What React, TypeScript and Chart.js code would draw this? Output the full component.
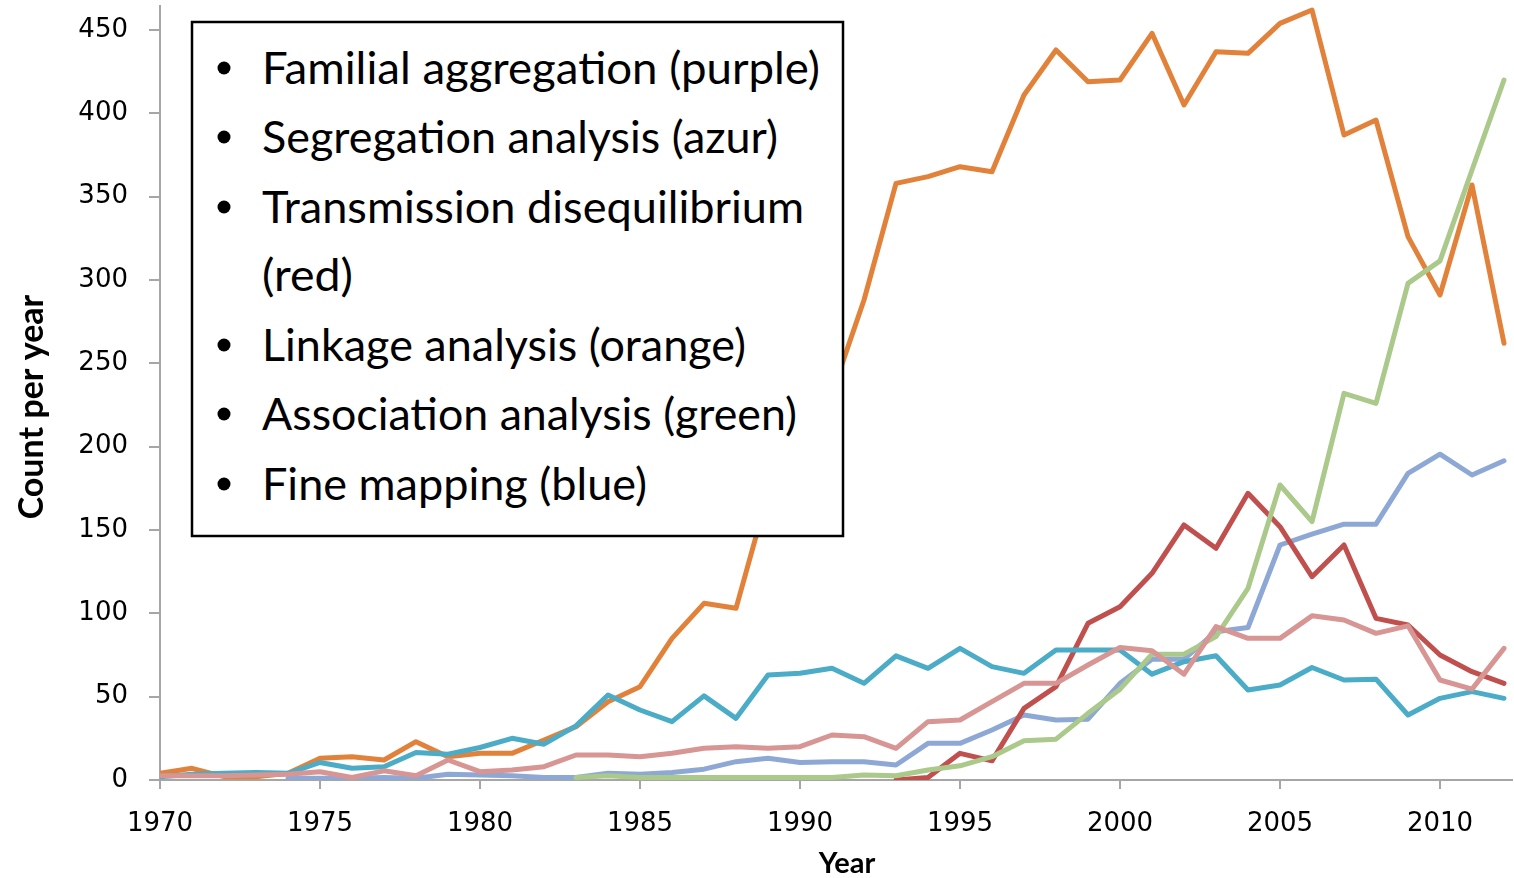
import React, { useEffect, useRef } from "react";
import { Chart, registerables } from "chart.js";

Chart.register(...registerables);

const years = [
  1970, 1971, 1972, 1973, 1974, 1975, 1976, 1977, 1978, 1979,
  1980, 1981, 1982, 1983, 1984, 1985, 1986, 1987, 1988, 1989,
  1990, 1991, 1992, 1993, 1994, 1995, 1996, 1997, 1998, 1999,
  2000, 2001, 2002, 2003, 2004, 2005, 2006, 2007, 2008, 2009,
  2010, 2011, 2012,
];

const orangeSeries = [
  4, 7, 2, 2, 4, 13, 14, 12, 23, 14,
  16, 16, 24, 32, 47, 56, 85, 106, 103, 172,
  200, 232, 288, 358, 362, 368, 365, 411, 438, 419,
  420, 448, 405, 437, 436, 454, 462, 387, 396, 326,
  291, 357, 262,
];

const tealSeries = [
  2, 3.5, 4, 4.5, 4, 10.5, 7, 8, 16.5, 15.5,
  19.5, 25, 21.5, 32.5, 51, 42, 35, 50.5, 37, 63,
  64, 67, 58, 74.5, 67, 79, 68, 64, 78, 78,
  78, 63.5, 71, 74.5, 54, 57, 67.5, 60, 60.5, 39,
  49, 53, 49,
];

const redSeries = [
  null, null, null, null, null, null, null, null, null, null,
  null, null, null, null, null, null, null, null, null, null,
  null, null, null, 0, 1.5, 16, 11.5, 43, 56, 94,
  104, 124, 153, 139, 172, 152, 122, 141, 97, 93,
  75, 65, 58,
];

const pinkSeries = [
  2.5, 2.5, 2.5, 3, 3.5, 5, 1.5, 5.5, 2.5, 12,
  5, 6, 8, 15, 15, 14, 16, 19, 20, 19,
  20, 27, 26, 19, 35, 36, 47, 58, 58, 69,
  79.5, 77.5, 63.5, 92, 85, 85, 98.5, 96, 88, 92.5,
  60, 54.5, 79,
];

const lavenderSeries = [
  null, null, null, null, 1, 1, 1, 1.5, 1, 3.5,
  3, 2.5, 1.5, 1.5, 4, 3.5, 4.5, 6.5, 11, 13,
  10.5, 11, 11, 9, 22, 22, 30, 39, 36, 36.5,
  58, 72.5, 72.5, 89, 91.5, 141, 147.5, 153.5, 153.5, 184,
  195.5, 183, 191.5,
];

const greenSeries = [
  null, null, null, null, null, null, null, null, null, null,
  null, null, null, 1.5, 2.5, 1.5, 1.5, 1.5, 1.5, 1.5,
  1.5, 1.5, 3, 2.5, 6, 8.5, 14, 23.5, 24.5, 40,
  54.5, 75.5, 75.5, 86, 115, 177, 155, 232, 226, 298,
  311.5, 366, 420,
];

const xTickValues = [1970, 1975, 1980, 1985, 1990, 1995, 2000, 2005, 2010];
const yTickValues = [0, 50, 100, 150, 200, 250, 300, 350, 400, 450];

const xTitle = "Year";
const yTitle = "Count per year";

const legendLines = [
  "Familial aggregation (purple)",
  "Segregation analysis (azur)",
  "Transmission disequilibrium",
  "(red)",
  "Linkage analysis (orange)",
  "Association analysis (green)",
  "Fine mapping (blue)",
];
const legendHasBullet = [true, true, true, false, true, true, true];
const legendBaselines = [84, 153, 223, 291, 361, 430, 500];
const legendEnds = [820, 778, 804, 353, 746, 797, 647];

const toPoints = (arr: (number | null)[]) =>
  years
    .map((yr, i) => ({ x: yr, y: arr[i] }))
    .filter((p) => p.y !== null);

const axisTitlePlugin = {
  id: "axisTitlePlugin",
  afterDraw(chart: any) {
    const ctx = chart.ctx;
    ctx.save();
    ctx.fillStyle = "#000";
    ctx.textAlign = "center";
    ctx.textBaseline = "middle";
    ctx.font = "bold 29px Lato, sans-serif";
    ctx.fillText(xTitle, 847, 864);
    ctx.translate(32, 407);
    ctx.rotate(-Math.PI / 2);
    ctx.font = "bold 34px Lato, sans-serif";
    ctx.fillText(yTitle, 0, 0);
    ctx.restore();
  },
};

export default function App() {
  const canvasRef = useRef<HTMLCanvasElement | null>(null);

  useEffect(() => {
    if (!canvasRef.current) return;
    const mk = (label: string, arr: (number | null)[], color: string) => ({
      label,
      data: toPoints(arr),
      borderColor: color,
      backgroundColor: color,
      borderWidth: 5,
      pointRadius: 0,
      tension: 0,
      borderJoinStyle: "round" as const,
      borderCapStyle: "round" as const,
      fill: false,
    });
    const axisColor = "#a6a6a6";
    const tickFont = { family: "'DejaVu Sans', sans-serif", size: 26 };
    const chart = new Chart(canvasRef.current, {
      type: "line",
      data: {
        datasets: [
          mk("Pink", pinkSeries, "#d79593"),
          mk("Green", greenSeries, "#aac98b"),
          mk("Teal", tealSeries, "#4aacc6"),
          mk("Red", redSeries, "#c0504d"),
          mk("Lavender", lavenderSeries, "#8ea8d6"),
          mk("Orange", orangeSeries, "#e2823a"),
        ],
      },
      plugins: [axisTitlePlugin],
      options: {
        animation: false,
        responsive: false,
        maintainAspectRatio: false,
        layout: { padding: { top: 6, right: 2, left: 0, bottom: 0 } },
        plugins: {
          legend: { display: false },
          tooltip: { enabled: false },
        },
        scales: {
          x: {
            type: "linear",
            min: 1970,
            max: 2012.25,
            afterBuildTicks: (scale: any) => {
              scale.ticks = xTickValues.map((v) => ({ value: v }));
            },
            afterFit: (scale: any) => {
              scale.height = 98;
              scale.paddingLeft = 0;
              scale.paddingRight = 0;
              scale.paddingTop = 0;
              scale.paddingBottom = 0;
            },
            ticks: {
              autoSkip: false,
              maxRotation: 0,
              padding: 20,
              color: "#000",
              font: tickFont,
              callback: (v: any) => String(v),
            },
            grid: {
              drawOnChartArea: false,
              drawTicks: true,
              tickLength: 9,
              color: axisColor,
              lineWidth: 2,
            },
            border: { color: axisColor, width: 2 },
            title: { display: false },
          },
          y: {
            type: "linear",
            min: 0,
            max: 464.4,
            afterBuildTicks: (scale: any) => {
              scale.ticks = yTickValues.map((v) => ({ value: v }));
            },
            afterFit: (scale: any) => {
              scale.width = 160;
              scale.paddingLeft = 0;
              scale.paddingRight = 0;
              scale.paddingTop = 0;
              scale.paddingBottom = 0;
            },
            ticks: {
              autoSkip: false,
              padding: 21,
              color: "#000",
              font: tickFont,
              callback: (v: any) => String(v),
            },
            grid: {
              drawOnChartArea: false,
              drawTicks: true,
              tickLength: 11,
              color: axisColor,
              lineWidth: 2,
            },
            border: { color: axisColor, width: 2 },
            title: { display: false },
          },
        },
      },
    } as any);
    return () => chart.destroy();
  }, []);

  return (
    <div
      style={{
        position: "fixed",
        left: 0,
        top: 0,
        width: 1514,
        height: 878,
        background: "#fff",
      }}
    >
      <canvas
        ref={canvasRef}
        width={1514}
        height={878}
        style={{ position: "absolute", left: 0, top: 0, width: 1514, height: 878 }}
      />
      <svg
        width={1514}
        height={878}
        style={{ position: "absolute", left: 0, top: 0, pointerEvents: "none" }}
      >
        <rect x={192} y={22} width={651} height={514} fill="#fff" stroke="#000" strokeWidth={2.5} />
        {legendLines.map((t, i) => (
          <g key={i}>
            {legendHasBullet[i] && (
              <circle cx={224} cy={legendBaselines[i] - 16} r={6.5} fill="#000" />
            )}
            <text
              x={262}
              y={legendBaselines[i]}
              fontFamily="Lato, sans-serif"
              fontSize={44}
              fill="#000"
              textLength={legendEnds[i] - 262}
              lengthAdjust="spacingAndGlyphs"
            >
              {t}
            </text>
          </g>
        ))}
      </svg>
    </div>
  );
}
